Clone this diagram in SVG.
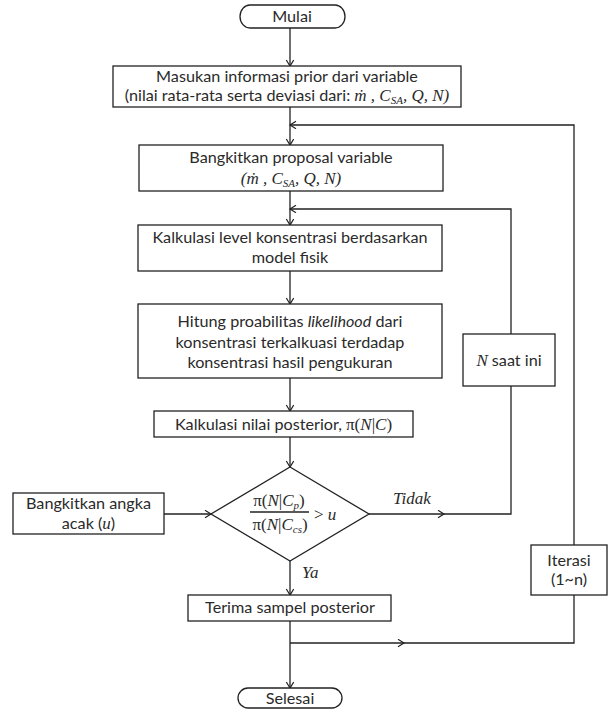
<svg xmlns="http://www.w3.org/2000/svg" width="608" height="713" viewBox="0 0 608 713">
<style>
.box{fill:#fff;stroke:#222;stroke-width:1.3}
.ln{fill:none;stroke:#222;stroke-width:1.3}
.t{font-family:Lato,"Liberation Sans",sans-serif;font-size:16.2px;fill:#2a2a2a;text-anchor:middle}
.m{font-family:"Liberation Serif","DejaVu Serif",serif;font-style:italic;font-size:17px}
.up{font-style:normal}
.sub{font-size:11px}
.lab{font-family:"Liberation Serif","DejaVu Serif",serif;font-style:italic;font-size:17px;fill:#2a2a2a}
</style>
<defs>
<marker id="ah" viewBox="0 0 10 10" markerWidth="10" markerHeight="10" refX="7" refY="4" orient="auto" markerUnits="userSpaceOnUse">
<path d="M1,0.3 L7,4 L1,7.7" fill="none" stroke="#222" stroke-width="1.2"/>
</marker>
</defs>

<g id="connectors">
<line class="ln" x1="290" y1="28" x2="290" y2="66" marker-end="url(#ah)"/>
<line class="ln" x1="290" y1="107" x2="290" y2="145" marker-end="url(#ah)"/>
<line class="ln" x1="290" y1="191" x2="290" y2="225" marker-end="url(#ah)"/>
<line class="ln" x1="290" y1="271" x2="290" y2="304" marker-end="url(#ah)"/>
<line class="ln" x1="290" y1="378" x2="290" y2="411" marker-end="url(#ah)"/>
<line class="ln" x1="290" y1="437" x2="290" y2="467" marker-end="url(#ah)"/>
<line class="ln" x1="164" y1="514" x2="211" y2="514" marker-end="url(#ah)"/>
<line class="ln" x1="290" y1="561" x2="290" y2="595" marker-end="url(#ah)"/>
<line class="ln" x1="290" y1="621" x2="290" y2="688" marker-end="url(#ah)"/>
<line class="ln" x1="369" y1="514" x2="444" y2="514" marker-end="url(#ah)"/>
<polyline class="ln" points="443,514 511,514 511,386"/>
<polyline class="ln" points="511,334 511,209 290,209" marker-end="url(#ah)"/>
<line class="ln" x1="290" y1="643" x2="404" y2="643" marker-end="url(#ah)"/>
<polyline class="ln" points="403,643 574,643 574,595"/>
<polyline class="ln" points="574,545 574,125 290,125" marker-end="url(#ah)"/>
<text class="lab" x="393" y="504">Tidak</text>
<text class="lab" x="302" y="578">Ya</text>
</g>

<g id="mulai">
<rect class="box" x="240" y="5" width="105" height="23" rx="10" ry="11.5"/>
<text class="t" x="292" y="22">Mulai</text>
</g>

<g id="prior">
<rect class="box" x="113" y="66" width="348" height="41"/>
<text class="t" x="287" y="82">Masukan informasi prior dari variable</text>
<text class="t" x="287" y="101">(nilai rata-rata serta deviasi dari: <tspan class="m">ṁ , C</tspan><tspan class="m sub" dy="3">SA</tspan><tspan class="m" dy="-3">, Q, N)</tspan></text>
</g>

<g id="proposal">
<rect class="box" x="139" y="145" width="304" height="46"/>
<text class="t" x="291" y="163">Bangkitkan proposal variable</text>
<text class="t" x="291" y="184"><tspan class="m">(ṁ , C</tspan><tspan class="m sub" dy="3">SA</tspan><tspan class="m" dy="-3">, Q, N)</tspan></text>
</g>

<g id="kalkulasi-level">
<rect class="box" x="138" y="225" width="304" height="46"/>
<text class="t" x="290" y="243">Kalkulasi level konsentrasi berdasarkan</text>
<text class="t" x="290" y="263">model fisik</text>
</g>

<g id="likelihood">
<rect class="box" x="138" y="304" width="304" height="74"/>
<text class="t" x="290" y="327">Hitung proabilitas <tspan font-style="italic">likelihood</tspan> dari</text>
<text class="t" x="290" y="348">konsentrasi terkalkuasi terdadap</text>
<text class="t" x="290" y="368">konsentrasi hasil pengukuran</text>
</g>

<g id="posterior">
<rect class="box" x="154" y="411" width="259" height="26"/>
<text class="t" x="283.5" y="430">Kalkulasi nilai posterior, <tspan class="m up">π(</tspan><tspan class="m">N</tspan><tspan class="m up">|</tspan><tspan class="m">C</tspan><tspan class="m up">)</tspan></text>
</g>

<g id="decision">
<polygon class="box" points="290,467 369,514 290,561 211,514"/>
<text class="t m" x="279" y="506"><tspan class="up">π(</tspan>N<tspan class="up">|</tspan>C<tspan class="sub" dy="3">p</tspan><tspan class="up" dy="-3">)</tspan></text>
<line class="ln" x1="250" y1="512" x2="309" y2="512"/>
<text class="t m" x="280" y="530"><tspan class="up">π(</tspan>N<tspan class="up">|</tspan>C<tspan class="sub" dy="3">cs</tspan><tspan class="up" dy="-3">)</tspan></text>
<text class="lab" x="314" y="520"><tspan class="up">&gt;</tspan> u</text>
</g>

<g id="random">
<rect class="box" x="13" y="493" width="151" height="41"/>
<text class="t" x="88.5" y="509">Bangkitkan angka</text>
<text class="t" x="88.5" y="529">acak (<tspan class="m">u</tspan>)</text>
</g>

<g id="n-saat-ini">
<rect class="box" x="463" y="334" width="92" height="52"/>
<text class="t" x="509" y="366"><tspan class="m">N</tspan> saat ini</text>
</g>

<g id="iterasi">
<rect class="box" x="531" y="545" width="76" height="50"/>
<text class="t" x="569" y="566">Iterasi</text>
<text class="t" x="569" y="585">(1~n)</text>
</g>

<g id="terima">
<rect class="box" x="188" y="595" width="203" height="26"/>
<text class="t" x="290" y="613">Terima sampel posterior</text>
</g>

<g id="selesai">
<rect class="box" x="238" y="688" width="104" height="20" rx="10" ry="10"/>
<text class="t" x="290" y="704">Selesai</text>
</g>
</svg>
